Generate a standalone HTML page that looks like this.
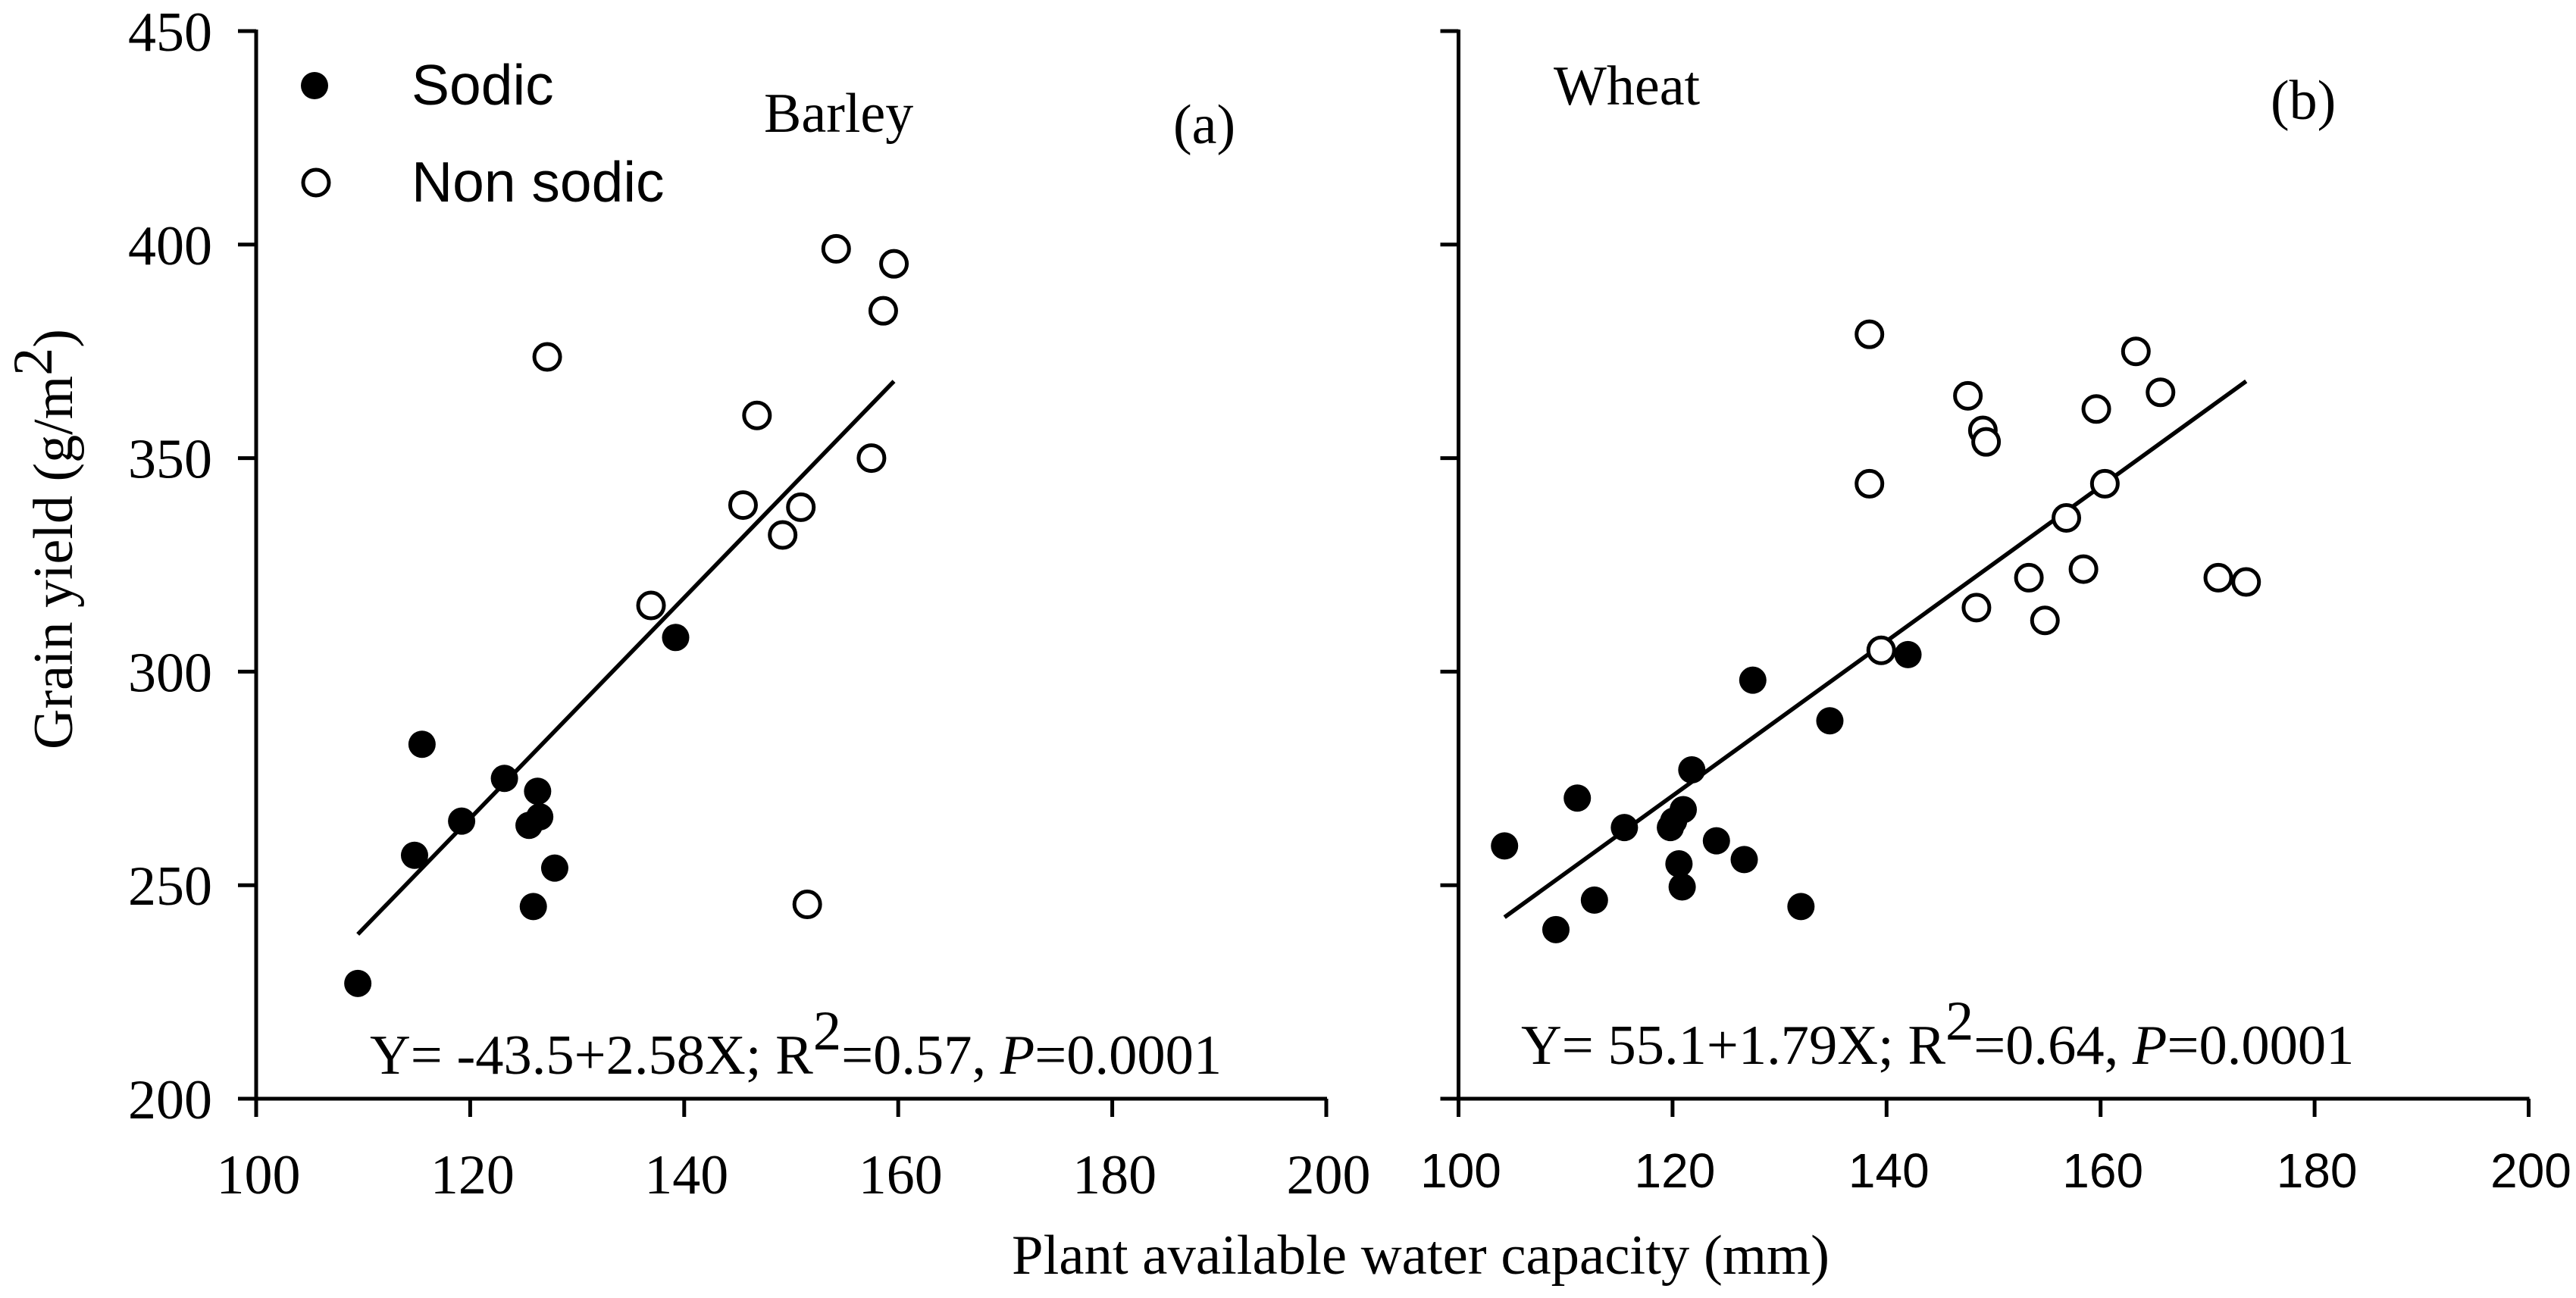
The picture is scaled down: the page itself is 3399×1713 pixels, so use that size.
<!DOCTYPE html>
<html lang="en">
<head>
<meta charset="utf-8">
<title>Grain yield vs plant available water capacity</title>
<style>
html,body{margin:0;padding:0;background:#fff;}
svg{display:block;}
text{fill:#000;}
.serif{font-family:"Liberation Serif",serif;font-size:74px;}
.eq{font-family:"Liberation Serif",serif;font-size:74.5px;}
.sans{font-family:"Liberation Sans",sans-serif;font-size:75px;}
</style>
</head>
<body>
<svg id="chart" xmlns="http://www.w3.org/2000/svg" width="3399" height="1713" viewBox="0 0 3399 1713">
<rect x="0" y="0" width="3399" height="1713" fill="#fff"/>
<g id="panel-a"></g>
<g id="panel-b"></g>

<text class="serif" transform="translate(95,989) rotate(-90)">Grain yield (g/m<tspan dy="-27">2</tspan><tspan dy="27">)</tspan></text>
<text class="serif" x="1335" y="1681" textLength="1079" lengthAdjust="spacingAndGlyphs">Plant available water capacity (mm)</text>

<circle cx="415" cy="113" r="18" fill="#000"/>
<text class="sans" x="543" y="138">Sodic</text>
<circle cx="417" cy="241" r="17" fill="#fff" stroke="#000" stroke-width="5"/>
<text class="sans" x="543" y="266">Non sodic</text>

<text class="serif" x="1008" y="174">Barley</text>
<text class="serif" x="1548" y="189">(a)</text>
<text class="serif" x="2050" y="138">Wheat</text>
<text class="serif" x="2996" y="157">(b)</text>

<text class="eq" x="488" y="1417">Y= -43.5+2.58X; R<tspan dy="-32">2</tspan><tspan dy="32">=0.57, </tspan><tspan font-style="italic">P</tspan>=0.0001</text>
<text class="eq" x="2007" y="1404">Y= 55.1+1.79X; R<tspan dy="-32">2</tspan><tspan dy="32">=0.64, </tspan><tspan font-style="italic">P</tspan>=0.0001</text>
</svg>
<script>
const xTicks = [100, 120, 140, 160, 180, 200];
const yTicks = [200, 250, 300, 350, 400, 450];

const barleySodicX = [109.5, 114.8, 115.5, 119.2, 123.2, 125.5, 126.3, 126.5, 125.9, 127.9, 139.2];
const barleySodicY = [227, 257, 283, 265, 275, 264, 272, 266, 245, 254, 308];
const barleyNonSodicX = [127.2, 136.9, 145.5, 146.8, 149.2, 150.9, 151.5, 154.2, 157.5, 158.6, 159.6];
const barleyNonSodicY = [373.7, 315.5, 339, 360, 332, 338.5, 245.5, 399, 350, 384.5, 395.5];
const barleyLineX = [109.5, 159.6];
const barleyLineY = [238.5, 368];

const wheatSodicX = [104.3, 109.1, 111.1, 112.7, 115.5, 119.8, 120.1, 120.6, 121, 120.9, 121.8, 124.1, 126.7, 127.5, 132, 134.7, 142];
const wheatSodicY = [259.2, 239.6, 270.4, 246.5, 263.5, 263.5, 265, 255, 267.7, 249.6, 277, 260.4, 256, 298, 245, 288.5, 304];
const wheatNonSodicX = [138.4, 138.4, 139.5, 147.6, 148.4, 149, 149.3, 153.3, 154.8, 156.8, 158.4, 159.6, 160.4, 163.3, 165.6, 171, 173.6];
const wheatNonSodicY = [379, 344, 305, 364.6, 315, 356.5, 353.8, 322, 312, 336, 324, 361.5, 344, 375, 365.4, 322, 321];
const wheatLineX = [104.3, 173.6];
const wheatLineY = [242.5, 368];

const NS = 'http://www.w3.org/2000/svg';
const AXIS_TOP = 41, AXIS_BOTTOM = 1450, PLOT_W = 1412;

function make(tag, attrs, parent) {
  const el = document.createElementNS(NS, tag);
  for (const k in attrs) el.setAttribute(k, attrs[k]);
  parent.appendChild(el);
  return el;
}
function scaleY(v) {
  return AXIS_BOTTOM - (v - yTicks[0]) / (yTicks[yTicks.length - 1] - yTicks[0]) * (AXIS_BOTTOM - AXIS_TOP);
}
function makeScaleX(left) {
  return v => left + (v - xTicks[0]) / (xTicks[xTicks.length - 1] - xTicks[0]) * PLOT_W;
}

function drawPanel(cfg) {
  const g = document.getElementById(cfg.id);
  const sx = makeScaleX(cfg.left);
  const right = sx(xTicks[xTicks.length - 1]);

  const yAxis = make('line', {x1: cfg.left, x2: cfg.left, y1: AXIS_TOP - 2, y2: AXIS_BOTTOM + 23, stroke: '#000', 'stroke-width': 5}, g);
  
  
  const xAxis = make('line', {x1: cfg.left, x2: right + 1, y1: AXIS_BOTTOM, y2: AXIS_BOTTOM, stroke: '#000', 'stroke-width': 5}, g);
  
  

  yTicks.forEach(v => {
    const t = make('line', {x1: cfg.left - 24, x2: cfg.left, y1: scaleY(v), y2: scaleY(v), stroke: '#000', 'stroke-width': 5}, g);
    
    
    if (cfg.yLabels) {
      const l = make('text', {x: cfg.left - 58, y: scaleY(v) + 26, 'text-anchor': 'end', class: 'serif'}, g);
      
      
      l.textContent = v;
    }
  });
  xTicks.forEach(v => {
    const t = make('line', {x1: sx(v), x2: sx(v), y1: AXIS_BOTTOM, y2: AXIS_BOTTOM + 24, stroke: '#000', 'stroke-width': 5}, g);
    
    
    const l = make('text', {x: sx(v) + cfg.labelDx, y: cfg.labelY, 'text-anchor': 'middle', style: cfg.labelStyle}, g);
    
    
    l.textContent = v;
  });

  const reg = make('line', {x1: sx(cfg.lineX[0]), y1: scaleY(cfg.lineY[0]), x2: sx(cfg.lineX[1]), y2: scaleY(cfg.lineY[1]), stroke: '#000', 'stroke-width': 5.5}, g);
  
  

  cfg.nonX.forEach((x, i) => {
    const c = make('circle', {cx: sx(x), cy: scaleY(cfg.nonY[i]), r: 17, fill: '#fff', stroke: '#000', 'stroke-width': 5}, g);
    
    
  });
  cfg.sodicX.forEach((x, i) => {
    const c = make('circle', {cx: sx(x), cy: scaleY(cfg.sodicY[i]), r: 18, fill: '#000'}, g);
    
    
  });
}

drawPanel({
  id: 'panel-a', left: 338, yLabels: true, labelDx: 3, labelY: 1575,
  labelStyle: 'font-family:"Liberation Serif",serif;font-size:74px',
  lineX: barleyLineX, lineY: barleyLineY,
  sodicX: barleySodicX, sodicY: barleySodicY,
  nonX: barleyNonSodicX, nonY: barleyNonSodicY
});
drawPanel({
  id: 'panel-b', left: 1924.5, yLabels: false, labelDx: 3, labelY: 1567,
  labelStyle: 'font-family:"Liberation Sans",sans-serif;font-size:64px',
  lineX: wheatLineX, lineY: wheatLineY,
  sodicX: wheatSodicX, sodicY: wheatSodicY,
  nonX: wheatNonSodicX, nonY: wheatNonSodicY
});
</script>
</body>
</html>
